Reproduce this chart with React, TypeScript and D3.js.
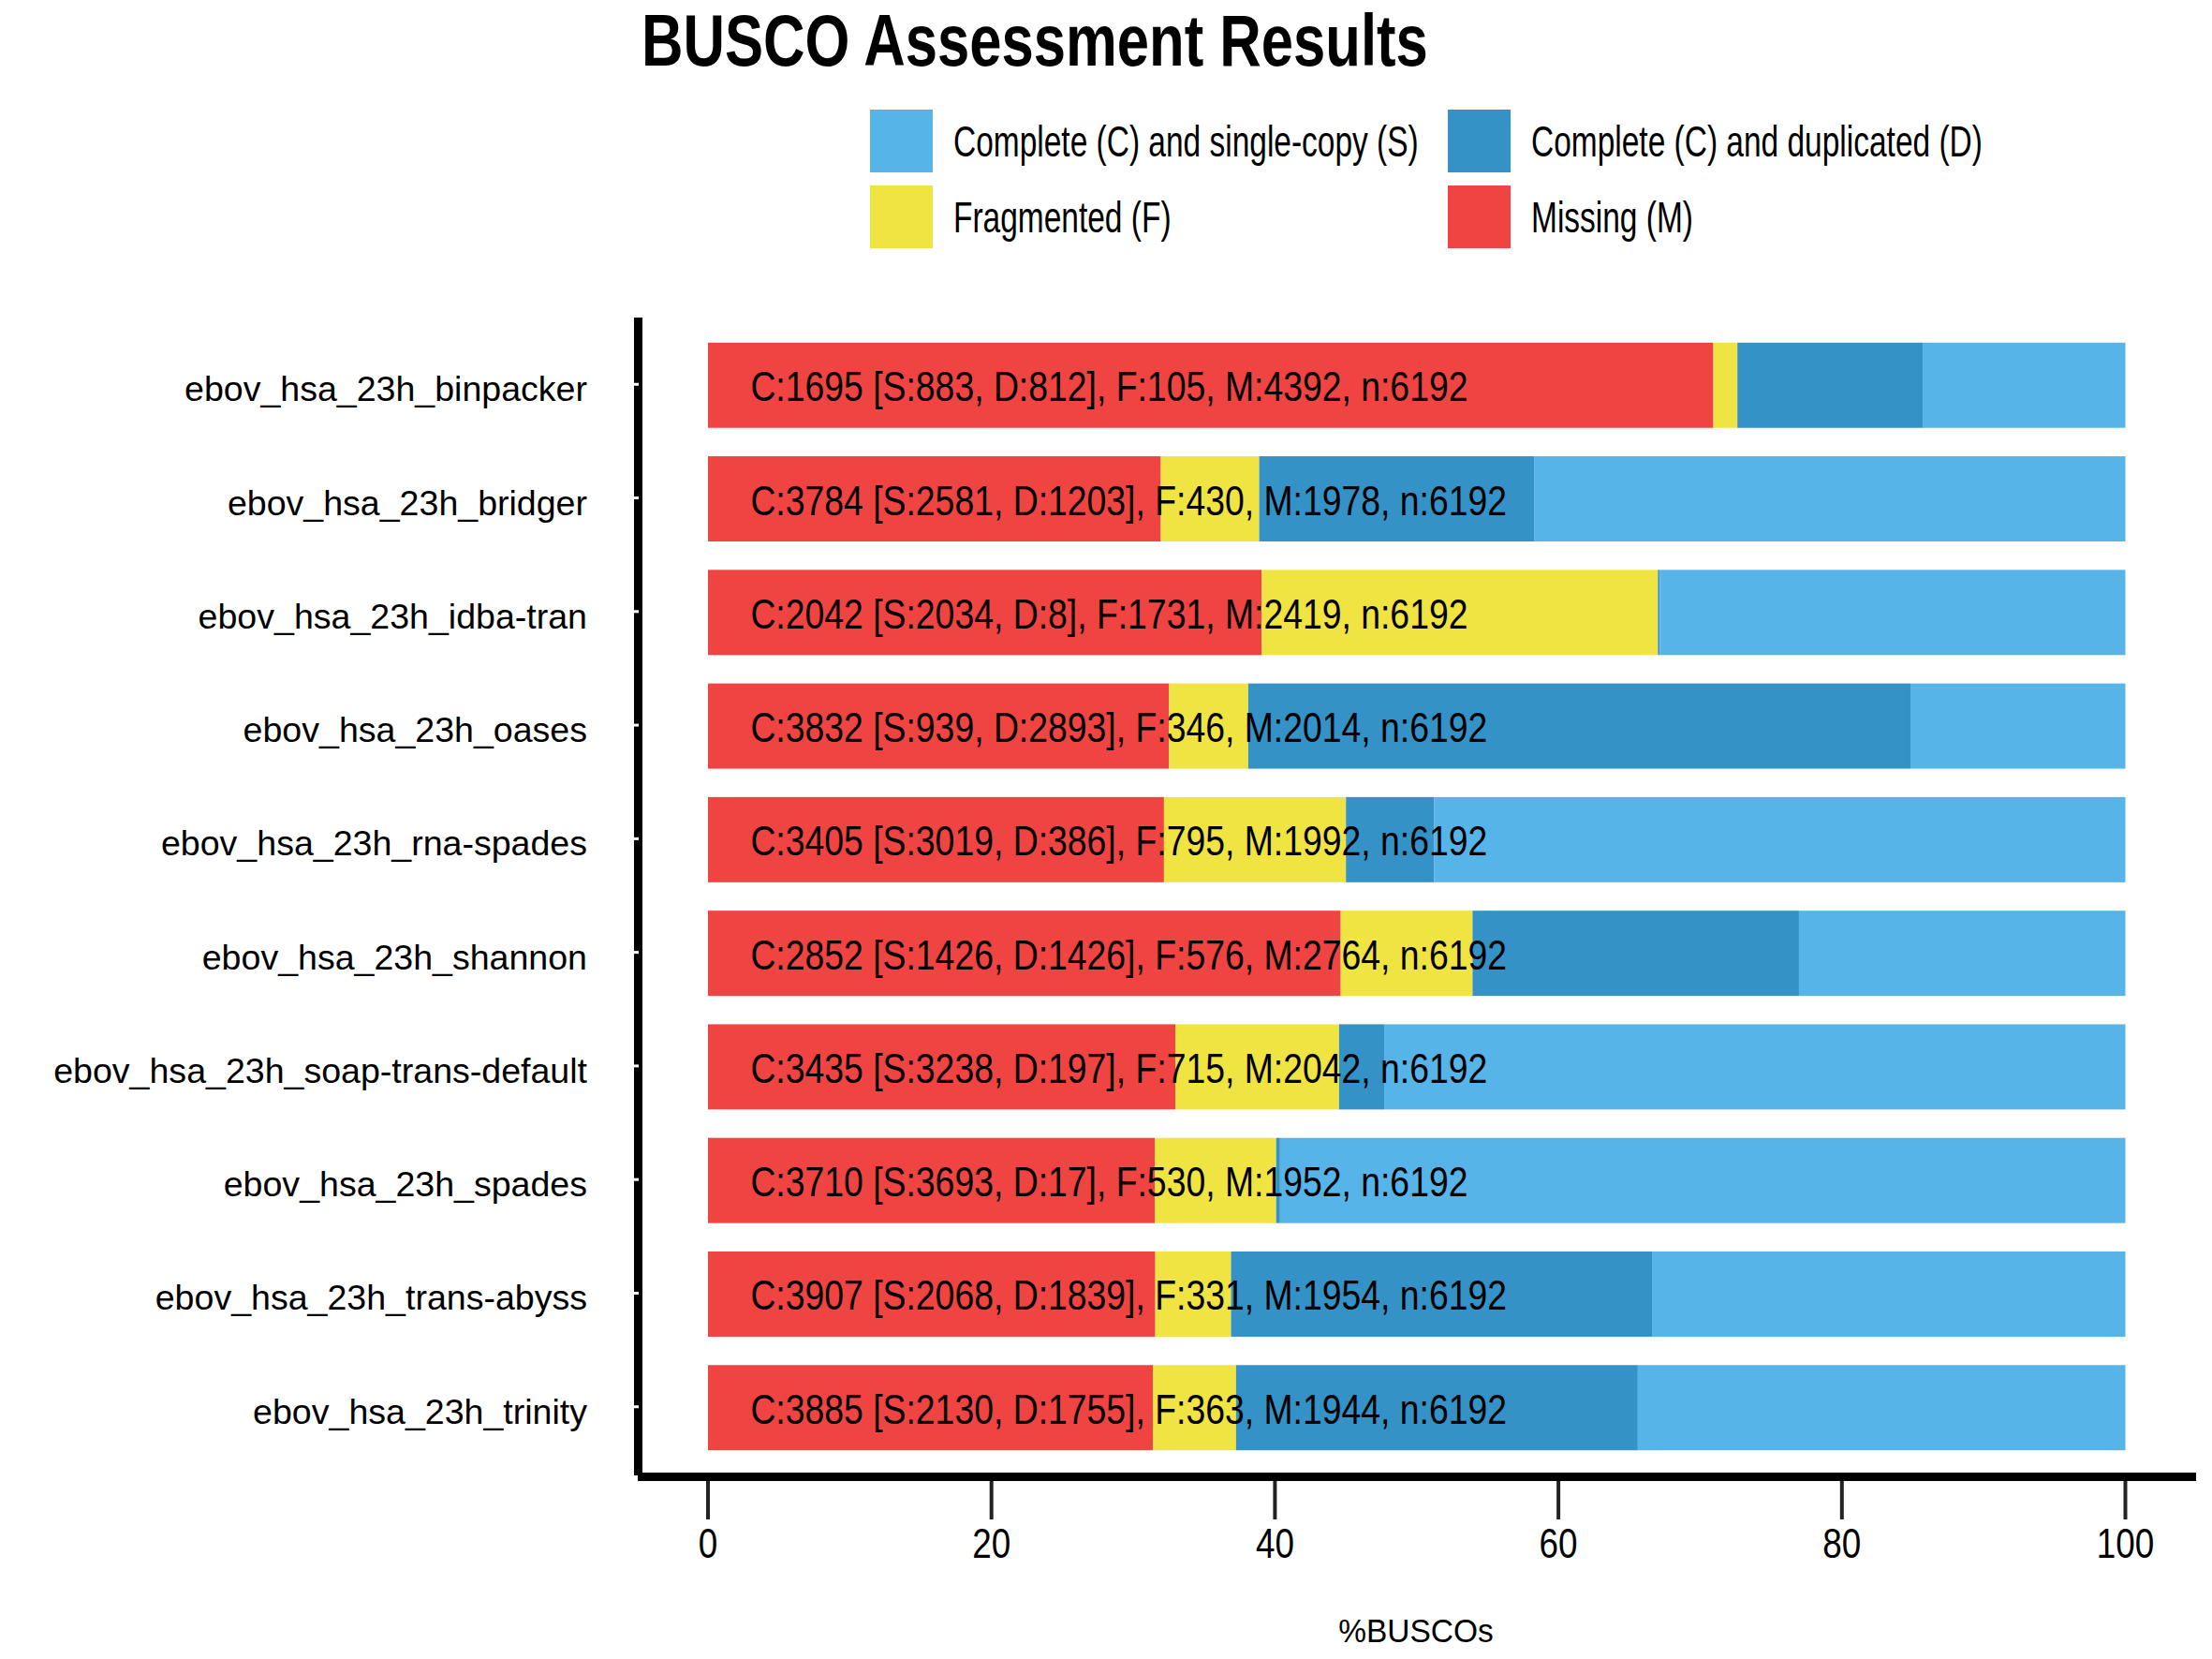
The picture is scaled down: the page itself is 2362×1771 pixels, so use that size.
import React from "react";
import * as d3 from "d3";

const categories = [
  "ebov_hsa_23h_binpacker",
  "ebov_hsa_23h_bridger",
  "ebov_hsa_23h_idba-tran",
  "ebov_hsa_23h_oases",
  "ebov_hsa_23h_rna-spades",
  "ebov_hsa_23h_shannon",
  "ebov_hsa_23h_soap-trans-default",
  "ebov_hsa_23h_spades",
  "ebov_hsa_23h_trans-abyss",
  "ebov_hsa_23h_trinity",
];
const singleCopy = [883, 2581, 2034, 939, 3019, 1426, 3238, 3693, 2068, 2130];
const duplicated = [812, 1203, 8, 2893, 386, 1426, 197, 17, 1839, 1755];
const fragmented = [105, 430, 1731, 346, 795, 576, 715, 530, 331, 363];
const missing = [4392, 1978, 2419, 2014, 1992, 2764, 2042, 1952, 1954, 1944];
const totals = [6192, 6192, 6192, 6192, 6192, 6192, 6192, 6192, 6192, 6192];
const xTicks = [0, 20, 40, 60, 80, 100];

const seriesKeys = ["M", "F", "D", "S"];
const seriesColors: Record<string, string> = {
  S: "#56B4E9",
  D: "#3492C7",
  F: "#F0E442",
  M: "#F04442",
};
const legendItems = [
  { key: "S", label: "Complete (C) and single-copy (S)" },
  { key: "D", label: "Complete (C) and duplicated (D)" },
  { key: "F", label: "Fragmented (F)" },
  { key: "M", label: "Missing (M)" },
];

const W = 2362;
const H = 1771;
const FONT = "'Liberation Sans', Arial, Helvetica, sans-serif";

const T = ({ x, y, k = 1, size, anchor = "start", weight = "normal", fill = "#000", children }: any) => (
  <text
    transform={`translate(${x},${y}) scale(${k},1)`}
    fontSize={size}
    fontFamily={FONT}
    fontWeight={weight}
    textAnchor={anchor}
    fill={fill}
  >
    {children}
  </text>
);

export default function App() {
  const panelLeft = 681.5;
  const panelTop = 338.5;
  const panelBottom = 1575.5;

  const x = d3.scaleLinear().domain([0, 100]).range([756, 2269.5]);
  const y = d3
    .scaleBand<string>()
    .domain(categories)
    .range([panelTop, panelBottom])
    .paddingInner(0.25)
    .paddingOuter(0.225);

  const rows = categories.map((c, i) => ({
    cat: c,
    S: (singleCopy[i] / totals[i]) * 100,
    D: (duplicated[i] / totals[i]) * 100,
    F: (fragmented[i] / totals[i]) * 100,
    M: (missing[i] / totals[i]) * 100,
    label: `C:${singleCopy[i] + duplicated[i]} [S:${singleCopy[i]}, D:${duplicated[i]}], F:${fragmented[i]}, M:${missing[i]}, n:${totals[i]}`,
  }));
  const stacked = d3.stack<any>().keys(seriesKeys)(rows);

  const legendCols = [929, 1546];
  const legendRows = [117, 198];
  const keySize = 67;

  return (
    <svg
      width={W}
      height={H}
      style={{ position: "absolute", left: 0, top: 0, background: "#fff" }}
    >
      <rect x={0} y={0} width={W} height={H} fill="#fff" />
      {/* title */}
      <T x={685} y={70} size={77} k={0.8} weight="bold">
        BUSCO Assessment Results
      </T>

      {/* legend */}
      {legendItems.map((it, i) => {
        const lx = legendCols[i % 2];
        const ly = legendRows[Math.floor(i / 2)];
        return (
          <g key={it.key}>
            <rect x={lx} y={ly} width={keySize} height={keySize} fill={seriesColors[it.key]} />
            <T x={lx + keySize + 22} y={ly + keySize / 2 + 16} size={46} k={0.728}>
              {it.label}
            </T>
          </g>
        );
      })}

      {/* bars */}
      {stacked.map((s) => (
        <g key={s.key} fill={seriesColors[s.key]}>
          {s.map((d, i) => (
            <rect
              key={i}
              x={x(d[0])}
              y={y(categories[i])!}
              width={Math.max(0, x(d[1]) - x(d[0]))}
              height={y.bandwidth()}
            />
          ))}
        </g>
      ))}

      {/* bar labels */}
      {rows.map((r) => (
        <T key={r.cat} x={x(3)} y={y(r.cat)! + y.bandwidth() / 2 + 17} size={45} k={0.83}>
          {r.label}
        </T>
      ))}

      {/* y axis labels */}
      {categories.map((c) => (
        <T key={c} x={627} y={y(c)! + y.bandwidth() / 2 + 17} size={37} k={1.015} anchor="end">
          {c}
        </T>
      ))}

      {/* x ticks */}
      {xTicks.map((t) => (
        <g key={t}>
          <line x1={x(t)} x2={x(t)} y1={1576} y2={1622} stroke="#222" strokeWidth={4} />
          <T x={x(t)} y={1663} size={45} k={0.82} anchor="middle">
            {t}
          </T>
        </g>
      ))}

      {/* axis lines */}
      <line x1={panelLeft} x2={panelLeft} y1={339} y2={1575} stroke="#000" strokeWidth={9} />
      <line x1={681} x2={2345} y1={1576.5} y2={1576.5} stroke="#000" strokeWidth={9} />
      {/* y ticks (small light marks on the axis) */}
      {categories.map((c) => (
        <line
          key={c}
          x1={677}
          x2={682}
          y1={y(c)! + y.bandwidth() / 2 - 1}
          y2={y(c)! + y.bandwidth() / 2 - 1}
          stroke="#fff"
          strokeWidth={3}
        />
      ))}

      {/* x axis title */}
      <T x={1512} y={1753} size={36} k={0.93} anchor="middle">
        %BUSCOs
      </T>
    </svg>
  );
}
